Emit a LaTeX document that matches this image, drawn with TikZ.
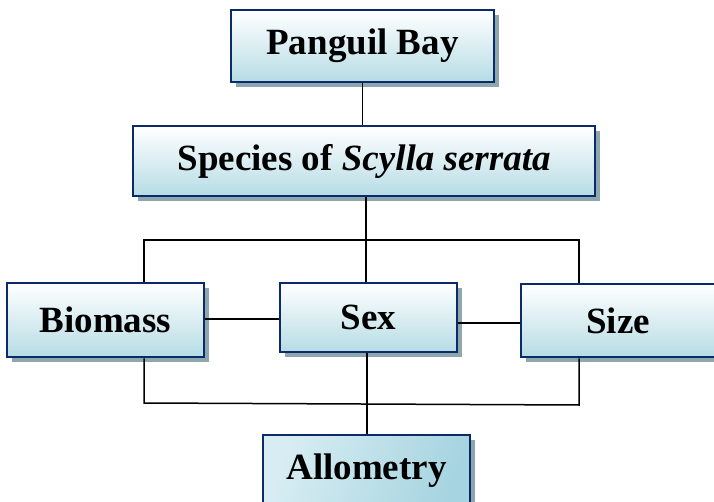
\documentclass[tikz,border=0pt]{standalone}
\usepackage{fontspec}
\setmainfont{Liberation Serif}
\usetikzlibrary{shadows}
\definecolor{navy}{HTML}{0B2A6A}
\definecolor{boxlow}{HTML}{B6DCE5}
\definecolor{boxmid}{HTML}{D8EDF3}
\definecolor{shadowc}{HTML}{8EA6AE}
\definecolor{allodark}{HTML}{A6D4E0}
\begin{document}
\begin{tikzpicture}[x=1pt,y=-1pt,
  box/.style={draw=navy, line width=2.5pt, top color=white, bottom color=boxlow,
    font=\fontsize{37}{42}\selectfont\bfseries, inner sep=0pt, anchor=center,
    drop shadow={shadow xshift=5pt, shadow yshift=-5pt, fill=shadowc, opacity=1}},
  allobox/.style={box, top color=boxmid, bottom color=allodark, shading angle=70},
  conn/.style={draw=black, line width=1.5pt}]
\useasboundingbox (0,0) rectangle (714,502);
\node[box, minimum width=263pt, minimum height=72pt] (pb) at (362.5,46) {Panguil Bay};
\node[box, minimum width=462pt, minimum height=70pt] (sp) at (364,161) {Species of \textit{Scylla serrata}};
\node[box, minimum width=197pt, minimum height=74pt] (bio) at (105.5,320) {Biomass};
\node[box, minimum width=177pt, minimum height=69pt] (sex) at (368.5,317.5) {Sex};
\node[box, minimum width=194pt, minimum height=73pt] (size) at (618,320.5) {Size};
\node[allobox, minimum width=207pt, minimum height=72pt] (allo) at (366.5,471) {Allometry};
\coordinate (tl) at (144,240);
\coordinate (tr) at (579,240);
\coordinate (bl) at (144,403);
\coordinate (br) at (579,405);
\draw[conn] (pb.south) -- (pb.south |- sp.north);
\draw[conn] (sp.south -| 366,0) -- (sex.north -| 366,0);
\draw[conn] (bio.north -| tl) -- (tl) -- (tr) -- (size.north -| tr);
\draw[conn] (bio.south -| bl) -- (bl) -- (br) -- (size.south -| br);
\draw[conn] (sex.south -| 367,0) -- (allo.north -| 367,0);
\draw[conn] (bio.east |- 0,319) -- (sex.west |- 0,319);
\draw[conn] (sex.east |- 0,323) -- (size.west |- 0,323);
\end{tikzpicture}
\end{document}
